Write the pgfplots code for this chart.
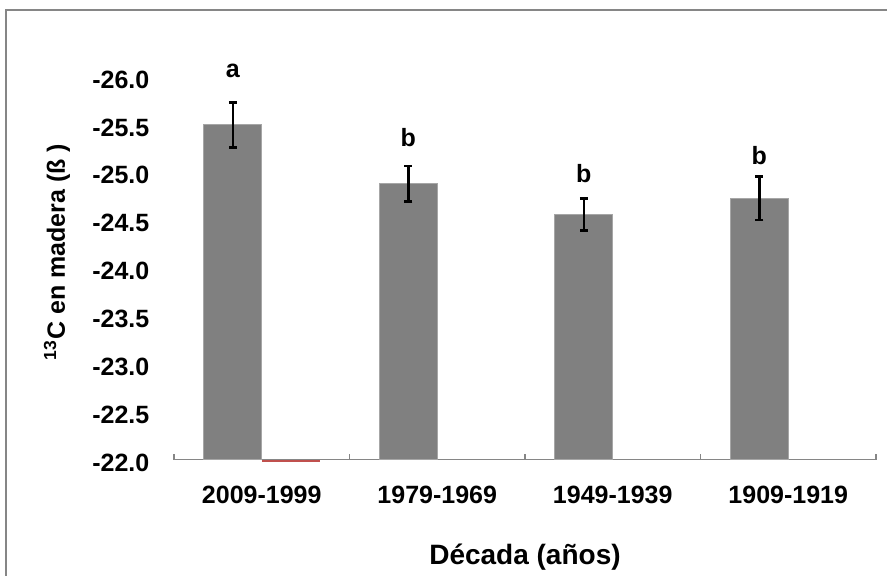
\documentclass[border=0pt]{standalone}
\usepackage{pgfplots}
\pgfplotsset{compat=1.18}
\usepackage{fontspec}
\setmainfont{Liberation Sans}
\definecolor{barfill}{RGB}{128,128,128}
\definecolor{baredge}{RGB}{166,166,166}
\definecolor{axgray}{RGB}{134,134,134}
\definecolor{exred}{RGB}{192,80,77}
\pgfplotsset{
  base/.style={
    scale only axis, width=351pt, height=191.75pt,
    at={(87pt,57.75pt)}, anchor=south west,
    xmin=-0.5, xmax=3.5,
    y coord trafo/.code={\pgfmathparse{-(##1)}},
    y coord inv trafo/.code={\pgfmathparse{-(##1)}},
    ymin=-22, ymax=-26,
  }
}
\begin{document}
\begin{tikzpicture}
\useasboundingbox (0,0) rectangle (443.5pt,287.5pt);
\clip (0,0) rectangle (443.5pt,287.5pt);
\draw[axgray, line width=0.75pt] (3pt,-10pt) rectangle (460pt,282.5pt);
\begin{axis}[base,
  clip mode=individual,
  axis x line*=bottom, axis y line*=left,
  x axis line style={axgray, line width=0.75pt},
  y axis line style={draw=none},
  tick align=inside,
  xtick={0,1,2,3},
  xticklabels={2009-1999,1979-1969,1949-1939,1909-1919},
  major x tick style={draw=none},
  minor xtick={-0.5,0.5,1.5,2.5,3.5},
  minor x tick style={axgray, line width=0.75pt},
  minor tick length=3pt,
  ytick={-22,-22.5,-23,-23.5,-24,-24.5,-25,-25.5,-26},
  yticklabels={-22.0,-22.5,-23.0,-23.5,-24.0,-24.5,-25.0,-25.5,-26.0},
  major y tick style={draw=none},
  ticklabel style={font=\bfseries\fontsize{12.5}{14}\selectfont},
  yticklabel style={xshift=-8.8pt, yshift=-1.75pt},
  xticklabel style={yshift=-9.5pt},
  /pgf/number format/assume math mode=true,
  xlabel={Década (años)},
  xlabel style={font=\bfseries\fontsize{14}{16}\selectfont, at={(axis description cs:0.5,-0.2542)}, anchor=center},
  ylabel={\textsuperscript{13}C en madera (ß )},
  ylabel style={font=\bfseries\fontsize{12.5}{15}\selectfont, at={(axis description cs:-0.1667,0.541)}, anchor=center},
]
% gray series: bars sit left of each category centre (second, red series sits right)
\addplot[ybar, bar width=29pt, bar shift=0pt, fill=barfill, draw=baredge, line width=0.5pt,
  error bars/.cd, y dir=both, y explicit,
  error bar style={black, line width=1.25pt},
  error mark options={rotate=90, black, mark size=2pt, line width=1.25pt}]
 coordinates {(-0.165,-25.49) +- (0,0.235) (0.835,-24.875) +- (0,0.185) (1.835,-24.555) +- (0,0.165) (2.835,-24.725) +- (0,0.225)};
\addplot[draw=none, mark=none, nodes near coords, point meta=explicit symbolic,
  nodes near coords style={anchor=base, inner sep=0pt, font=\bfseries\fontsize{12.5}{14}\selectfont, text=black}]
 coordinates {(-0.165,-25.98) [a] (0.835,-25.26) [b] (1.835,-24.89) [b] (2.835,-25.08) [b]};
\end{axis}
\begin{axis}[base, hide axis, clip=false]
\addplot[exred, line width=1pt] coordinates {(0,-21.984) (0.33,-21.984)};
\end{axis}
\end{tikzpicture}
\end{document}
